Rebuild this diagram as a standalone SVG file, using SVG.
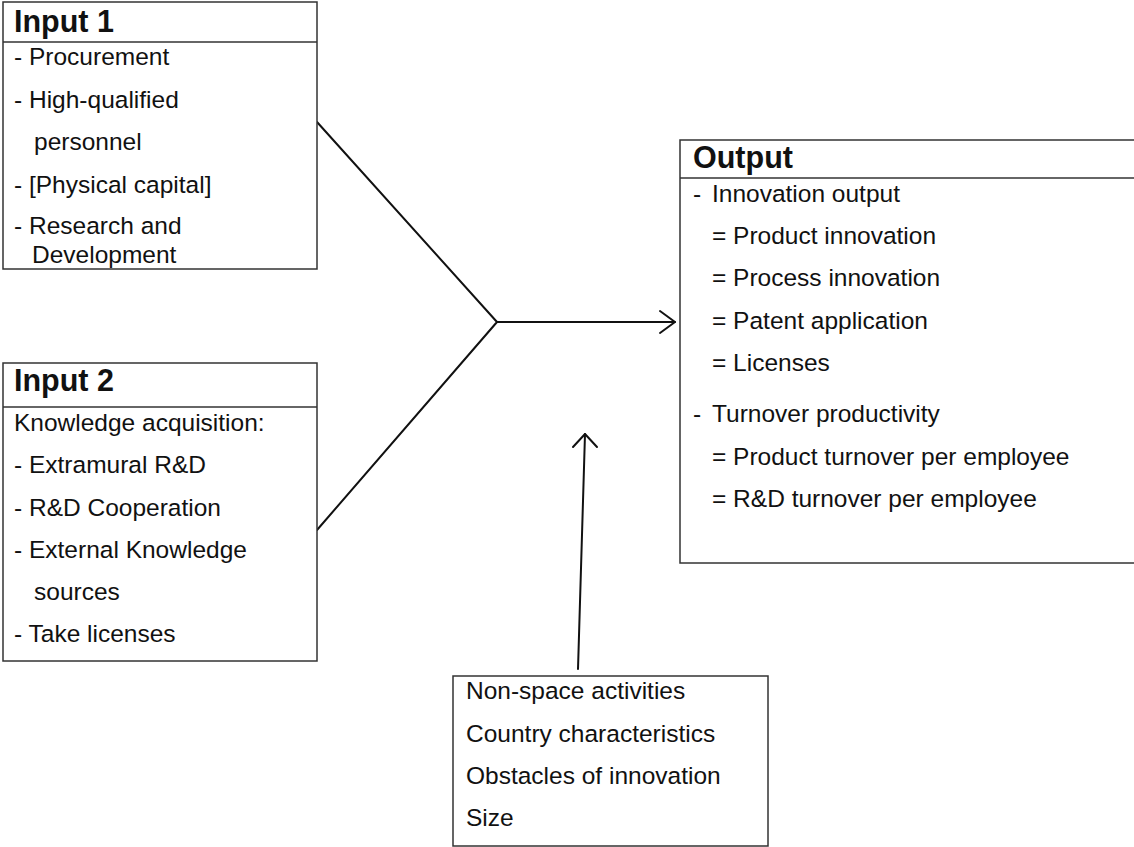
<svg xmlns="http://www.w3.org/2000/svg" width="1134" height="847" viewBox="0 0 1134 847">
<style>
.box{fill:#fff;stroke:#333;stroke-width:1.5}
.sep{stroke:#333;stroke-width:1.5}
.t{font-family:"Liberation Sans",Arial,sans-serif;font-size:24.5px;fill:#111}
.h{font-family:"Liberation Sans",Arial,sans-serif;font-size:30.5px;font-weight:bold;fill:#111}
.c{fill:none;stroke:#111;stroke-width:2;stroke-linecap:round;stroke-linejoin:round}
</style>
<rect width="1134" height="847" fill="#fff"/>
<g id="connectors">
<polyline class="c" points="317,122 497,322 317,530"/>
<line class="c" x1="497" y1="322" x2="675" y2="322"/>
<polyline class="c" points="660,311 675,322 660,333"/>
<line class="c" x1="578" y1="669" x2="585" y2="434"/>
<polyline class="c" points="573,447 585,434 597,447"/>
</g>
<g id="input1">
<rect class="box" x="3" y="2" width="314" height="267"/>
<line class="sep" x1="3" y1="42" x2="317" y2="42"/>
<text class="h" x="14" y="32">Input 1</text>
<text class="t" x="14" y="65">- Procurement</text>
<text class="t" x="14" y="108">- High-qualified</text>
<text class="t" x="34" y="150">personnel</text>
<text class="t" x="14" y="193">- [Physical capital]</text>
<text class="t" x="14" y="234">- Research and</text>
<text class="t" x="32" y="263">Development</text>
</g>
<g id="input2">
<rect class="box" x="3" y="363" width="314" height="298"/>
<line class="sep" x1="3" y1="407" x2="317" y2="407"/>
<text class="h" x="14" y="391">Input 2</text>
<text class="t" x="14" y="431">Knowledge acquisition:</text>
<text class="t" x="14" y="473">- Extramural R&amp;D</text>
<text class="t" x="14" y="516">- R&amp;D Cooperation</text>
<text class="t" x="14" y="558">- External Knowledge</text>
<text class="t" x="34" y="600">sources</text>
<text class="t" x="14" y="642">- Take licenses</text>
</g>
<g id="output">
<rect class="box" x="680" y="140" width="460" height="423"/>
<line class="sep" x1="680" y1="178" x2="1134" y2="178"/>
<text class="h" x="693" y="168">Output</text>
<text class="t" x="693" y="202">-<tspan x="712">Innovation output</tspan></text>
<text class="t" x="712" y="244">= Product innovation</text>
<text class="t" x="712" y="286">= Process innovation</text>
<text class="t" x="712" y="329">= Patent application</text>
<text class="t" x="712" y="371">= Licenses</text>
<text class="t" x="693" y="422">-<tspan x="712">Turnover productivity</tspan></text>
<text class="t" x="712" y="465">= Product turnover per employee</text>
<text class="t" x="712" y="507">= R&amp;D turnover per employee</text>
</g>
<g id="factors">
<rect class="box" x="453" y="676" width="315" height="170"/>
<text class="t" x="466" y="699">Non-space activities</text>
<text class="t" x="466" y="742">Country characteristics</text>
<text class="t" x="466" y="784">Obstacles of innovation</text>
<text class="t" x="466" y="826">Size</text>
</g>
</svg>
